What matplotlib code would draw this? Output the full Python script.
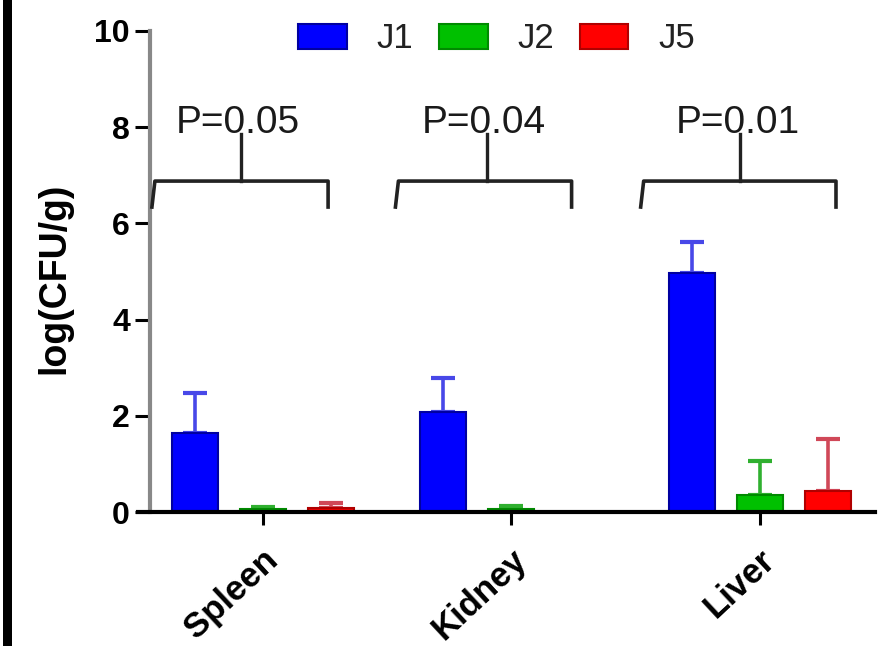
import matplotlib
matplotlib.use("Agg")
import matplotlib.pyplot as plt
import matplotlib.transforms as mtransforms
from matplotlib.patches import Patch, Rectangle
import numpy as np

plt.rcParams['font.family'] = ['Liberation Sans', 'DejaVu Sans']

# ---------------- data ----------------
categories = ["Spleen", "Kidney", "Liver"]
series = ["J1", "J2", "J5"]
J1 = [1.64, 2.07, 4.97]
J1_err = [0.83, 0.71, 0.65]
J2 = [0.06, 0.06, 0.35]
J2_err = [0.04, 0.06, 0.71]
J5 = [0.09, 0.0, 0.44]
J5_err = [0.10, 0.0, 1.08]
p_labels = ["P=0.05", "P=0.04", "P=0.01"]
yticks = [0, 2, 4, 6, 8, 10]

# bracket geometry (data units)
br_left = [-0.435, 0.545, 1.532]
br_right = [0.262, 1.242, 2.306]
br_center = [-0.09, 0.90, 1.92]
br_y = 6.88
br_drop = 6.34
br_top = 7.85

# ---------------- figure ----------------
W, H = 885, 646
fig = plt.figure(figsize=(W / 100, H / 100), dpi=100)
fig.patch.set_facecolor("white")
ax = fig.add_axes([138 / W, 1 - 512 / H, (875 - 138) / W, (512 - 31) / H])

x = np.arange(len(categories))
off = 0.274
bw = 0.185
vals = [J1, J2, J5]
errs = [J1_err, J2_err, J5_err]
fcols = ["#0000FF", "#00C000", "#FF0000"]
ecols = ["#0000A0", "#008A00", "#B00000"]
errcols = ["#4848E8", "#30B030", "#D04858"]
handles = []
for i, (v, e) in enumerate(zip(vals, errs)):
    xs = x + (i - 1) * off
    ax.bar(xs, v, width=bw, color=fcols[i], edgecolor=ecols[i], linewidth=1.5, zorder=2)
    mask = np.array(v) > 0
    ax.errorbar(xs[mask], np.array(v)[mask],
                yerr=[np.zeros(mask.sum()), np.array(e)[mask]],
                fmt="none", ecolor=errcols[i], elinewidth=2.6, capsize=8.5,
                capthick=3.0, zorder=1.5)
    handles.append(Patch(facecolor=fcols[i], edgecolor=ecols[i], linewidth=1.5, label=series[i]))

ax.set_xlim(-0.503, 2.463)
ax.set_ylim(0, 10)

for s in ["top", "right"]:
    ax.spines[s].set_visible(False)
ax.spines["left"].set_position(("data", -0.455))
ax.spines["left"].set_color("#888888")
ax.spines["left"].set_linewidth(3.0)
ax.spines["bottom"].set_color("black")
ax.spines["bottom"].set_linewidth(3.0)
ax.spines["bottom"].set_zorder(3)

ax.set_yticks(yticks)
ax.set_yticklabels([str(t) for t in yticks], fontsize=23, fontweight="bold")
ax.tick_params(axis="y", length=11, width=2.2, pad=3.5, color="black")
ax.set_xticks(x)
ax.set_xticklabels(categories, fontsize=25, fontweight="bold", rotation=43,
                   ha="right", va="top", rotation_mode="anchor")
ax.tick_params(axis="x", length=9.5, width=2.2, pad=13, color="black")
shift = mtransforms.ScaledTranslation(-1 / 100, 0, fig.dpi_scale_trans)
for lab in ax.get_xticklabels():
    lab.set_transform(lab.get_transform() + shift)

# brackets
for l, r, c, p in zip(br_left, br_right, br_center, p_labels):
    ax.plot([l - 0.012, l, r, r], [br_drop, br_y, br_y, br_drop], color="#222222",
            lw=2.6, solid_joinstyle="round", zorder=3, clip_on=False)
    ax.plot([c, c], [br_y, br_top], color="#222222", lw=2.4, zorder=3, clip_on=False)
    ax.text(c - 0.01, br_top + 0.02, p, fontsize=28, ha="center", va="baseline",
            color="#1a1a1a")

fig.text(54 / W, 1 - 278 / H, "log(CFU/g)", rotation=90, fontsize=27,
         fontweight="bold", ha="center", va="center")

leg = fig.legend(handles=handles, loc="center left",
                 bbox_to_anchor=(298 / W, 1 - 39 / H), ncol=3, frameon=False,
                 fontsize=25, handlelength=1.4, handleheight=0.75,
                 handletextpad=0.85, columnspacing=0.75, borderpad=0,
                 borderaxespad=0)
for t in leg.get_texts():
    t.set_color("#222222")

fig.patches.append(Rectangle((3 / W, 0), 9 / W, 1, transform=fig.transFigure,
                             facecolor="black", edgecolor="none"))

fig.savefig("out.png", dpi=100)
